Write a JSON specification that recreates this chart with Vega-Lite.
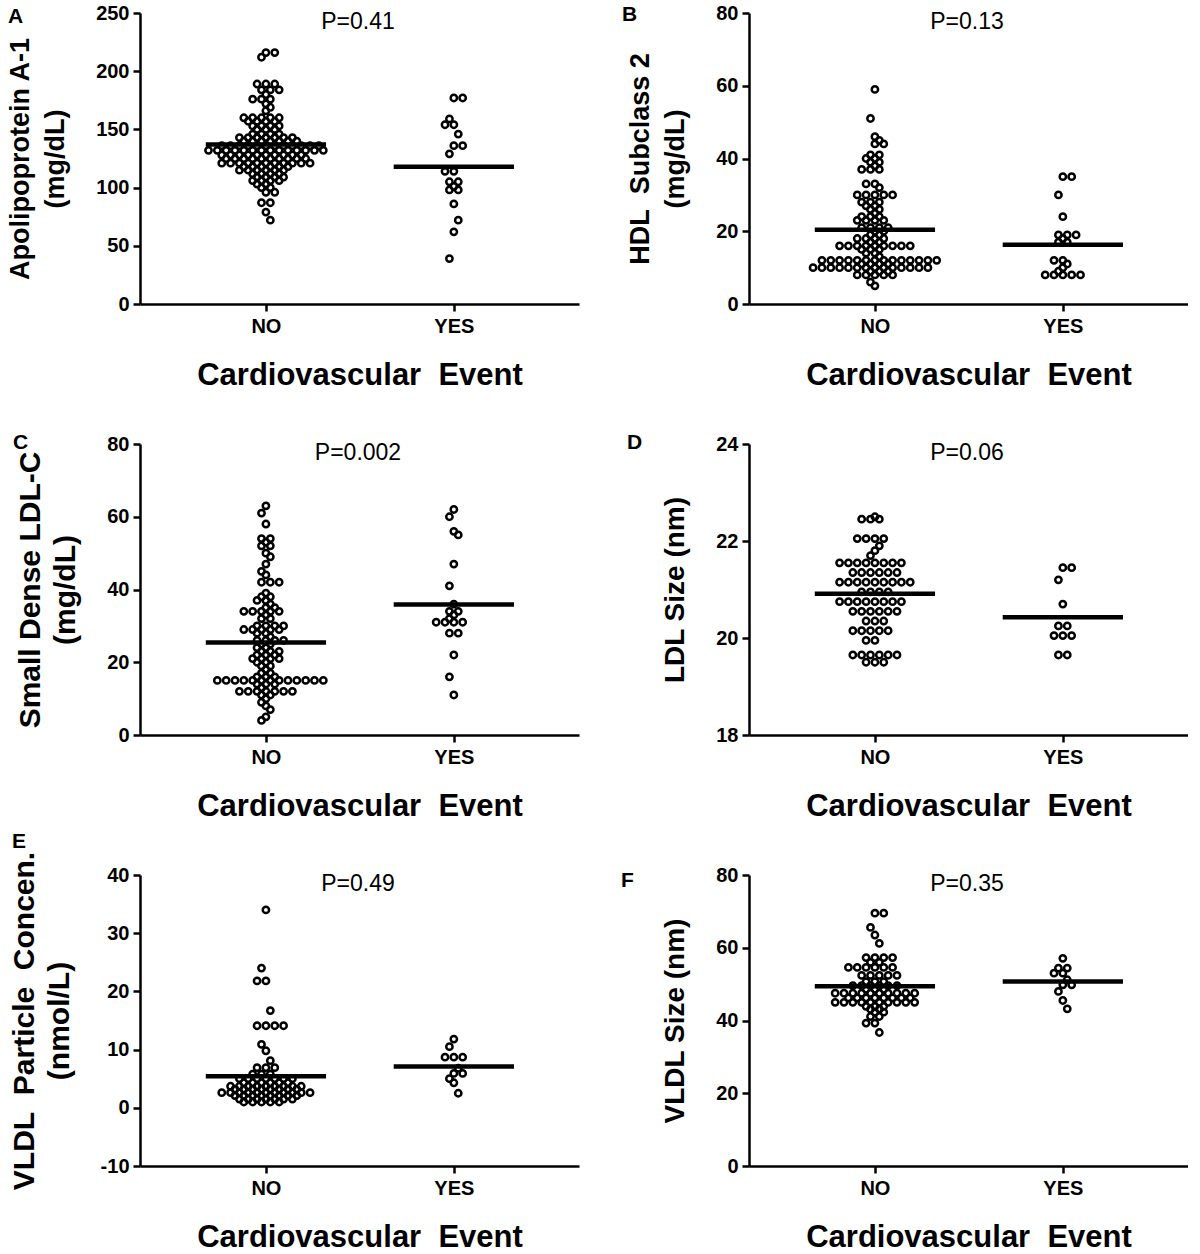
{
"$schema": "https://vega.github.io/schema/vega-lite/v6.json",
"background": "white",
"padding": {"left": 6, "top": 3, "right": 0, "bottom": 0},
"datasets": {
"A": [
{"event":"NO","value":216},{"event":"NO","value":216},{"event":"NO","value":212},
{"event":"NO","value":189},{"event":"NO","value":189},{"event":"NO","value":189},
{"event":"NO","value":184},{"event":"NO","value":184},{"event":"NO","value":184},
{"event":"NO","value":180},{"event":"NO","value":176},{"event":"NO","value":176},{"event":"NO","value":176},
{"event":"NO","value":172},{"event":"NO","value":169},{"event":"NO","value":166},
{"event":"NO","value":160},{"event":"NO","value":160},{"event":"NO","value":160},{"event":"NO","value":160},{"event":"NO","value":160},
{"event":"NO","value":157},{"event":"NO","value":157},{"event":"NO","value":157},{"event":"NO","value":157},
{"event":"NO","value":153},{"event":"NO","value":153},{"event":"NO","value":153},{"event":"NO","value":153},
{"event":"NO","value":150},{"event":"NO","value":150},{"event":"NO","value":150},
{"event":"NO","value":146},{"event":"NO","value":146},{"event":"NO","value":146},{"event":"NO","value":146},
{"event":"NO","value":143},{"event":"NO","value":143},{"event":"NO","value":143},{"event":"NO","value":143},{"event":"NO","value":143},{"event":"NO","value":143},{"event":"NO","value":143},
{"event":"NO","value":140},{"event":"NO","value":140},{"event":"NO","value":140},{"event":"NO","value":140},{"event":"NO","value":140},{"event":"NO","value":140},{"event":"NO","value":140},
{"event":"NO","value":136},{"event":"NO","value":136},{"event":"NO","value":136},{"event":"NO","value":136},{"event":"NO","value":136},{"event":"NO","value":136},{"event":"NO","value":136},{"event":"NO","value":136},{"event":"NO","value":136},{"event":"NO","value":136},{"event":"NO","value":136},{"event":"NO","value":136},
{"event":"NO","value":132},{"event":"NO","value":132},{"event":"NO","value":132},{"event":"NO","value":132},{"event":"NO","value":132},{"event":"NO","value":132},{"event":"NO","value":132},{"event":"NO","value":132},{"event":"NO","value":132},{"event":"NO","value":132},{"event":"NO","value":132},{"event":"NO","value":132},{"event":"NO","value":132},{"event":"NO","value":132},
{"event":"NO","value":128},{"event":"NO","value":128},{"event":"NO","value":128},{"event":"NO","value":128},{"event":"NO","value":128},{"event":"NO","value":128},{"event":"NO","value":128},{"event":"NO","value":128},{"event":"NO","value":128},{"event":"NO","value":128},
{"event":"NO","value":125},{"event":"NO","value":125},{"event":"NO","value":125},{"event":"NO","value":125},{"event":"NO","value":125},{"event":"NO","value":125},{"event":"NO","value":125},{"event":"NO","value":125},{"event":"NO","value":125},{"event":"NO","value":125},
{"event":"NO","value":121},{"event":"NO","value":121},{"event":"NO","value":121},{"event":"NO","value":121},{"event":"NO","value":121},{"event":"NO","value":121},{"event":"NO","value":121},{"event":"NO","value":121},{"event":"NO","value":121},{"event":"NO","value":121},{"event":"NO","value":121},
{"event":"NO","value":118},{"event":"NO","value":118},{"event":"NO","value":118},{"event":"NO","value":118},{"event":"NO","value":118},{"event":"NO","value":118},
{"event":"NO","value":115},{"event":"NO","value":115},{"event":"NO","value":115},{"event":"NO","value":115},{"event":"NO","value":115},{"event":"NO","value":115},
{"event":"NO","value":112},{"event":"NO","value":112},{"event":"NO","value":112},{"event":"NO","value":112},
{"event":"NO","value":109},{"event":"NO","value":109},{"event":"NO","value":109},{"event":"NO","value":109},
{"event":"NO","value":106},{"event":"NO","value":106},{"event":"NO","value":106},{"event":"NO","value":106},
{"event":"NO","value":103},{"event":"NO","value":103},{"event":"NO","value":100},{"event":"NO","value":100},
{"event":"NO","value":96},{"event":"NO","value":96},{"event":"NO","value":87},{"event":"NO","value":87},
{"event":"NO","value":79},{"event":"NO","value":72},
{"event":"YES","value":177},{"event":"YES","value":177},{"event":"YES","value":159},{"event":"YES","value":154},{"event":"YES","value":154},
{"event":"YES","value":146},{"event":"YES","value":136},{"event":"YES","value":136},{"event":"YES","value":129},{"event":"YES","value":114},
{"event":"YES","value":114},{"event":"YES","value":105},{"event":"YES","value":105},{"event":"YES","value":101},{"event":"YES","value":98},
{"event":"YES","value":98},{"event":"YES","value":86},{"event":"YES","value":72},{"event":"YES","value":62},{"event":"YES","value":39}
],
"B": [
{"event":"NO","value":59},{"event":"NO","value":51},{"event":"NO","value":46},{"event":"NO","value":45},
{"event":"NO","value":44},{"event":"NO","value":44},{"event":"NO","value":41},{"event":"NO","value":41},
{"event":"NO","value":40},{"event":"NO","value":40},{"event":"NO","value":39},{"event":"NO","value":39},
{"event":"NO","value":38},{"event":"NO","value":37},{"event":"NO","value":37},{"event":"NO","value":37},
{"event":"NO","value":33},{"event":"NO","value":33},{"event":"NO","value":32},
{"event":"NO","value":30},{"event":"NO","value":30},{"event":"NO","value":30},{"event":"NO","value":30},{"event":"NO","value":30},
{"event":"NO","value":28},{"event":"NO","value":28},{"event":"NO","value":28},
{"event":"NO","value":27},{"event":"NO","value":27},{"event":"NO","value":26},{"event":"NO","value":26},{"event":"NO","value":25},
{"event":"NO","value":24},{"event":"NO","value":24},{"event":"NO","value":24},
{"event":"NO","value":23},{"event":"NO","value":23},{"event":"NO","value":23},{"event":"NO","value":23},
{"event":"NO","value":21},{"event":"NO","value":21},{"event":"NO","value":21},{"event":"NO","value":21},
{"event":"NO","value":20},{"event":"NO","value":20},{"event":"NO","value":19},{"event":"NO","value":19},
{"event":"NO","value":18},{"event":"NO","value":18},{"event":"NO","value":18},{"event":"NO","value":18},
{"event":"NO","value":17},{"event":"NO","value":17},
{"event":"NO","value":16},{"event":"NO","value":16},{"event":"NO","value":16},{"event":"NO","value":16},{"event":"NO","value":16},{"event":"NO","value":16},{"event":"NO","value":16},{"event":"NO","value":16},{"event":"NO","value":16},
{"event":"NO","value":15},{"event":"NO","value":15},{"event":"NO","value":15},{"event":"NO","value":14},{"event":"NO","value":14},{"event":"NO","value":13},
{"event":"NO","value":12},{"event":"NO","value":12},{"event":"NO","value":12},{"event":"NO","value":12},{"event":"NO","value":12},{"event":"NO","value":12},{"event":"NO","value":12},{"event":"NO","value":12},{"event":"NO","value":12},{"event":"NO","value":12},{"event":"NO","value":12},{"event":"NO","value":12},{"event":"NO","value":12},{"event":"NO","value":12},
{"event":"NO","value":11},{"event":"NO","value":11},{"event":"NO","value":11},{"event":"NO","value":11},
{"event":"NO","value":10},{"event":"NO","value":10},{"event":"NO","value":10},{"event":"NO","value":10},{"event":"NO","value":10},{"event":"NO","value":10},{"event":"NO","value":10},{"event":"NO","value":10},{"event":"NO","value":10},{"event":"NO","value":10},{"event":"NO","value":10},{"event":"NO","value":10},{"event":"NO","value":10},{"event":"NO","value":10},
{"event":"NO","value":9},{"event":"NO","value":9},{"event":"NO","value":9},
{"event":"NO","value":8},{"event":"NO","value":8},{"event":"NO","value":8},{"event":"NO","value":8},{"event":"NO","value":8},
{"event":"NO","value":6},{"event":"NO","value":5},
{"event":"YES","value":35},{"event":"YES","value":35},{"event":"YES","value":30},{"event":"YES","value":24},
{"event":"YES","value":19},{"event":"YES","value":19},{"event":"YES","value":19},{"event":"YES","value":18},
{"event":"YES","value":17},{"event":"YES","value":17},{"event":"YES","value":12},{"event":"YES","value":12},
{"event":"YES","value":11},{"event":"YES","value":10},{"event":"YES","value":9},
{"event":"YES","value":8},{"event":"YES","value":8},{"event":"YES","value":8},{"event":"YES","value":8},{"event":"YES","value":8}
],
"C": [
{"event":"NO","value":63},{"event":"NO","value":61},{"event":"NO","value":58},{"event":"NO","value":54},{"event":"NO","value":54},
{"event":"NO","value":53},{"event":"NO","value":52},{"event":"NO","value":52},{"event":"NO","value":50},{"event":"NO","value":49},
{"event":"NO","value":47},{"event":"NO","value":45},{"event":"NO","value":44},{"event":"NO","value":42},{"event":"NO","value":42},{"event":"NO","value":42},
{"event":"NO","value":39},{"event":"NO","value":38},{"event":"NO","value":38},{"event":"NO","value":37},{"event":"NO","value":37},
{"event":"NO","value":36},{"event":"NO","value":35},{"event":"NO","value":35},
{"event":"NO","value":34},{"event":"NO","value":34},{"event":"NO","value":34},{"event":"NO","value":34},{"event":"NO","value":34},
{"event":"NO","value":33},{"event":"NO","value":32},{"event":"NO","value":32},
{"event":"NO","value":30},{"event":"NO","value":30},{"event":"NO","value":30},{"event":"NO","value":30},
{"event":"NO","value":29},{"event":"NO","value":29},{"event":"NO","value":29},{"event":"NO","value":29},{"event":"NO","value":29},
{"event":"NO","value":28},{"event":"NO","value":28},{"event":"NO","value":27},
{"event":"NO","value":26},{"event":"NO","value":26},{"event":"NO","value":26},{"event":"NO","value":26},
{"event":"NO","value":25},{"event":"NO","value":25},{"event":"NO","value":24},{"event":"NO","value":24},
{"event":"NO","value":23},{"event":"NO","value":23},{"event":"NO","value":23},
{"event":"NO","value":22},{"event":"NO","value":22},{"event":"NO","value":22},
{"event":"NO","value":21},{"event":"NO","value":21},{"event":"NO","value":21},{"event":"NO","value":21},
{"event":"NO","value":20},{"event":"NO","value":20},{"event":"NO","value":19},{"event":"NO","value":19},
{"event":"NO","value":18},{"event":"NO","value":17},{"event":"NO","value":17},
{"event":"NO","value":16},{"event":"NO","value":16},{"event":"NO","value":16},
{"event":"NO","value":15},{"event":"NO","value":15},{"event":"NO","value":15},{"event":"NO","value":15},{"event":"NO","value":15},{"event":"NO","value":15},{"event":"NO","value":15},{"event":"NO","value":15},{"event":"NO","value":15},{"event":"NO","value":15},{"event":"NO","value":15},{"event":"NO","value":15},{"event":"NO","value":15},
{"event":"NO","value":14},{"event":"NO","value":14},{"event":"NO","value":14},{"event":"NO","value":13},
{"event":"NO","value":12},{"event":"NO","value":12},{"event":"NO","value":12},{"event":"NO","value":12},{"event":"NO","value":12},{"event":"NO","value":12},{"event":"NO","value":12},
{"event":"NO","value":11},{"event":"NO","value":11},{"event":"NO","value":10},{"event":"NO","value":9},
{"event":"NO","value":8},{"event":"NO","value":7},{"event":"NO","value":5},{"event":"NO","value":4},
{"event":"YES","value":62},{"event":"YES","value":60},{"event":"YES","value":56},{"event":"YES","value":55},
{"event":"YES","value":47},{"event":"YES","value":41},{"event":"YES","value":36},{"event":"YES","value":34},
{"event":"YES","value":34},{"event":"YES","value":33},{"event":"YES","value":32},{"event":"YES","value":31},
{"event":"YES","value":31},{"event":"YES","value":31},{"event":"YES","value":31},{"event":"YES","value":28},
{"event":"YES","value":28},{"event":"YES","value":22},{"event":"YES","value":16},{"event":"YES","value":11}
],
"D": [
{"event":"NO","value":22.5},{"event":"NO","value":22.45},{"event":"NO","value":22.45},{"event":"NO","value":22.45},
{"event":"NO","value":22.05},{"event":"NO","value":22.05},{"event":"NO","value":22.05},{"event":"NO","value":22.05},
{"event":"NO","value":21.9},{"event":"NO","value":21.8},{"event":"NO","value":21.7},
{"event":"NO","value":21.55},{"event":"NO","value":21.55},{"event":"NO","value":21.55},{"event":"NO","value":21.55},{"event":"NO","value":21.55},{"event":"NO","value":21.55},{"event":"NO","value":21.55},{"event":"NO","value":21.55},
{"event":"NO","value":21.35},{"event":"NO","value":21.35},{"event":"NO","value":21.35},{"event":"NO","value":21.35},{"event":"NO","value":21.35},{"event":"NO","value":21.35},
{"event":"NO","value":21.15},{"event":"NO","value":21.15},{"event":"NO","value":21.15},{"event":"NO","value":21.15},{"event":"NO","value":21.15},{"event":"NO","value":21.15},{"event":"NO","value":21.15},{"event":"NO","value":21.15},{"event":"NO","value":21.15},
{"event":"NO","value":20.95},{"event":"NO","value":20.95},{"event":"NO","value":20.95},{"event":"NO","value":20.95},
{"event":"NO","value":20.75},{"event":"NO","value":20.75},{"event":"NO","value":20.75},{"event":"NO","value":20.75},{"event":"NO","value":20.75},{"event":"NO","value":20.75},{"event":"NO","value":20.75},{"event":"NO","value":20.75},
{"event":"NO","value":20.55},{"event":"NO","value":20.55},{"event":"NO","value":20.55},{"event":"NO","value":20.55},{"event":"NO","value":20.55},{"event":"NO","value":20.55},
{"event":"NO","value":20.35},{"event":"NO","value":20.35},{"event":"NO","value":20.35},
{"event":"NO","value":20.15},{"event":"NO","value":20.15},{"event":"NO","value":20.15},{"event":"NO","value":20.15},{"event":"NO","value":20.15},
{"event":"NO","value":19.95},{"event":"NO","value":19.95},
{"event":"NO","value":19.65},{"event":"NO","value":19.65},{"event":"NO","value":19.65},{"event":"NO","value":19.65},{"event":"NO","value":19.65},{"event":"NO","value":19.65},
{"event":"NO","value":19.5},{"event":"NO","value":19.5},{"event":"NO","value":19.5},
{"event":"YES","value":21.45},{"event":"YES","value":21.45},{"event":"YES","value":21.2},{"event":"YES","value":20.7},
{"event":"YES","value":20.25},{"event":"YES","value":20.25},{"event":"YES","value":20.05},{"event":"YES","value":20.05},
{"event":"YES","value":20.05},{"event":"YES","value":19.65},{"event":"YES","value":19.65}
],
"E": [
{"event":"NO","value":34},{"event":"NO","value":24},{"event":"NO","value":21.8},{"event":"NO","value":21.8},{"event":"NO","value":16.7},
{"event":"NO","value":14.1},{"event":"NO","value":14.1},{"event":"NO","value":14.1},{"event":"NO","value":14.1},
{"event":"NO","value":10.9},{"event":"NO","value":9.8},{"event":"NO","value":8.1},
{"event":"NO","value":6.9},{"event":"NO","value":6.9},{"event":"NO","value":6.9},
{"event":"NO","value":5.8},{"event":"NO","value":5.8},{"event":"NO","value":5.8},
{"event":"NO","value":5.0},{"event":"NO","value":5.0},{"event":"NO","value":5.0},{"event":"NO","value":5.0},{"event":"NO","value":5.0},{"event":"NO","value":5.0},{"event":"NO","value":5.0},
{"event":"NO","value":4.3},{"event":"NO","value":4.3},{"event":"NO","value":4.3},{"event":"NO","value":4.3},{"event":"NO","value":4.3},{"event":"NO","value":4.3},
{"event":"NO","value":3.7},{"event":"NO","value":3.7},{"event":"NO","value":3.7},{"event":"NO","value":3.7},{"event":"NO","value":3.7},{"event":"NO","value":3.7},{"event":"NO","value":3.7},{"event":"NO","value":3.7},{"event":"NO","value":3.7},
{"event":"NO","value":3.2},{"event":"NO","value":3.2},{"event":"NO","value":3.2},{"event":"NO","value":3.2},{"event":"NO","value":3.2},{"event":"NO","value":3.2},{"event":"NO","value":3.2},{"event":"NO","value":3.2},
{"event":"NO","value":2.6},{"event":"NO","value":2.6},{"event":"NO","value":2.6},{"event":"NO","value":2.6},{"event":"NO","value":2.6},{"event":"NO","value":2.6},{"event":"NO","value":2.6},{"event":"NO","value":2.6},{"event":"NO","value":2.6},{"event":"NO","value":2.6},{"event":"NO","value":2.6},
{"event":"NO","value":2.1},{"event":"NO","value":2.1},{"event":"NO","value":2.1},{"event":"NO","value":2.1},{"event":"NO","value":2.1},{"event":"NO","value":2.1},{"event":"NO","value":2.1},{"event":"NO","value":2.1},
{"event":"NO","value":1.5},{"event":"NO","value":1.5},{"event":"NO","value":1.5},{"event":"NO","value":1.5},{"event":"NO","value":1.5},{"event":"NO","value":1.5},{"event":"NO","value":1.5},
{"event":"NO","value":1.0},{"event":"NO","value":1.0},{"event":"NO","value":1.0},{"event":"NO","value":1.0},{"event":"NO","value":1.0},
{"event":"YES","value":11.8},{"event":"YES","value":10.5},{"event":"YES","value":8.7},{"event":"YES","value":8.7},
{"event":"YES","value":8.7},{"event":"YES","value":6.8},{"event":"YES","value":5.9},{"event":"YES","value":5.9},
{"event":"YES","value":5.0},{"event":"YES","value":4.3},{"event":"YES","value":2.5}
],
"F": [
{"event":"NO","value":69.5},{"event":"NO","value":69.5},{"event":"NO","value":65.6},{"event":"NO","value":63.5},{"event":"NO","value":61.2},
{"event":"NO","value":57.3},{"event":"NO","value":57.3},{"event":"NO","value":57.3},{"event":"NO","value":57.3},
{"event":"NO","value":56},{"event":"NO","value":56},
{"event":"NO","value":54.6},{"event":"NO","value":54.6},{"event":"NO","value":54.6},{"event":"NO","value":54.6},{"event":"NO","value":54.6},{"event":"NO","value":54.6},
{"event":"NO","value":52.4},{"event":"NO","value":52.4},{"event":"NO","value":52.4},{"event":"NO","value":52.4},{"event":"NO","value":52.4},
{"event":"NO","value":50.7},{"event":"NO","value":50.7},{"event":"NO","value":50.7},
{"event":"NO","value":49.6},{"event":"NO","value":49.6},{"event":"NO","value":49.6},{"event":"NO","value":49.6},{"event":"NO","value":49.6},{"event":"NO","value":49.6},
{"event":"NO","value":48.6},{"event":"NO","value":48.6},{"event":"NO","value":48.6},
{"event":"NO","value":47.5},{"event":"NO","value":47.5},{"event":"NO","value":47.5},{"event":"NO","value":47.5},{"event":"NO","value":47.5},{"event":"NO","value":47.5},{"event":"NO","value":47.5},{"event":"NO","value":47.5},{"event":"NO","value":47.5},{"event":"NO","value":47.5},
{"event":"NO","value":46.2},{"event":"NO","value":46.2},{"event":"NO","value":46.2},{"event":"NO","value":46.2},{"event":"NO","value":46.2},{"event":"NO","value":46.2},{"event":"NO","value":46.2},{"event":"NO","value":46.2},
{"event":"NO","value":45},{"event":"NO","value":45},{"event":"NO","value":45},{"event":"NO","value":45},{"event":"NO","value":45},{"event":"NO","value":45},{"event":"NO","value":45},{"event":"NO","value":45},{"event":"NO","value":45},{"event":"NO","value":45},
{"event":"NO","value":43.9},{"event":"NO","value":43.9},{"event":"NO","value":43.9},
{"event":"NO","value":43.1},{"event":"NO","value":43.1},{"event":"NO","value":42.3},{"event":"NO","value":42.3},
{"event":"NO","value":41.1},{"event":"NO","value":41.1},{"event":"NO","value":39.3},{"event":"NO","value":39.3},{"event":"NO","value":36.7},
{"event":"YES","value":57.1},{"event":"YES","value":54.4},{"event":"YES","value":54.4},{"event":"YES","value":53},
{"event":"YES","value":53},{"event":"YES","value":51.2},{"event":"YES","value":49.8},{"event":"YES","value":49.8},
{"event":"YES","value":48},{"event":"YES","value":45.5},{"event":"YES","value":43.2}
],
"means": [
{"panel":"A","event":"NO","value":137},{"panel":"A","event":"YES","value":118},
{"panel":"B","event":"NO","value":20.4},{"panel":"B","event":"YES","value":16.3},
{"panel":"C","event":"NO","value":25.4},{"panel":"C","event":"YES","value":35.9},
{"panel":"D","event":"NO","value":20.91},{"panel":"D","event":"YES","value":20.43},
{"panel":"E","event":"NO","value":5.4},{"panel":"E","event":"YES","value":7.1},
{"panel":"F","event":"NO","value":49.4},{"panel":"F","event":"YES","value":50.7}
],
"plabels": [
{"panel":"A","label":"P=0.41"},{"panel":"B","label":"P=0.13"},{"panel":"C","label":"P=0.002"},
{"panel":"D","label":"P=0.06"},{"panel":"E","label":"P=0.49"},{"panel":"F","label":"P=0.35"}
]
},
"columns": 2,
"spacing": {"row": 140, "column": 170},
"bounds": "flush",
"concat": [
{
"width": 439, "height": 291,
"title": {"text": "A", "dx": -132, "dy": 28},
"layer": [
{"data": {"name": "A"},
"transform": [
{"calculate": "datum.event == 'NO' ? 1 : 2", "as": "grp"},
{"window": [{"op": "row_number", "as": "k"}], "groupby": ["event", "value"]},
{"joinaggregate": [{"op": "count", "as": "n"}], "groupby": ["event", "value"]},
{"window": [{"op": "dense_rank", "as": "r"}], "groupby": ["event"], "sort": [{"field": "value", "order": "descending"}]},
{"calculate": "(datum.k - 1) - (datum.n - 1) / 2", "as": "c"},
{"calculate": "((datum.r % 2 == 1) == (datum.n % 2 == 1)) ? datum.c : datum.c + ((datum.r % 4 < 2) ? 0.5 : -0.5)", "as": "slot"},
{"calculate": "datum.grp + datum.slot * 0.047", "as": "x"}
],
"mark": {"type": "point", "shape": "circle", "filled": false, "color": "black", "strokeWidth": 2.5, "size": 40, "opacity": 1},
"encoding": {
"x": {"field": "x", "type": "quantitative", "scale": {"domain": [0.33, 2.666], "nice": false, "zero": false}, "axis": {"values": [1, 2], "labelExpr": "datum.value == 1 ? 'NO' : 'YES'", "title": "Cardiovascular\u00a0 Event"}},
"y": {"field": "value", "type": "quantitative", "scale": {"domain": [0, 250], "nice": false, "zero": false}, "axis": {"values": [0, 50, 100, 150, 200, 250], "title": ["Apolipoprotein A-1", "(mg/dL)"], "titleFontSize": 27}}
}},
{"data": {"name": "means"},
"transform": [{"filter": "datum.panel == 'A'"}, {"calculate": "(datum.event == 'NO' ? 1 : 2) - 0.32", "as": "x"}, {"calculate": "(datum.event == 'NO' ? 1 : 2) + 0.32", "as": "x2"}],
"mark": {"type": "rule", "color": "black", "strokeWidth": 4.5},
"encoding": {"x": {"field": "x", "type": "quantitative"}, "x2": {"field": "x2"}, "y": {"field": "value", "type": "quantitative"}}},
{"data": {"name": "plabels"},
"transform": [{"filter": "datum.panel == 'A'"}],
"mark": {"type": "text", "font": "Liberation Sans", "fontSize": 23, "baseline": "middle", "dy": 9, "color": "black"},
"encoding": {"x": {"datum": 1.49}, "y": {"datum": 250}, "text": {"field": "label"}}}
]
},
{
"width": 439, "height": 291,
"title": {"text": "B", "dx": -127, "dy": 26},
"layer": [
{"data": {"name": "B"},
"transform": [
{"calculate": "datum.event == 'NO' ? 1 : 2", "as": "grp"},
{"window": [{"op": "row_number", "as": "k"}], "groupby": ["event", "value"]},
{"joinaggregate": [{"op": "count", "as": "n"}], "groupby": ["event", "value"]},
{"window": [{"op": "dense_rank", "as": "r"}], "groupby": ["event"], "sort": [{"field": "value", "order": "descending"}]},
{"calculate": "(datum.k - 1) - (datum.n - 1) / 2", "as": "c"},
{"calculate": "((datum.r % 2 == 1) == (datum.n % 2 == 1)) ? datum.c : datum.c + ((datum.r % 4 < 2) ? 0.5 : -0.5)", "as": "slot"},
{"calculate": "datum.grp + datum.slot * 0.047", "as": "x"}
],
"mark": {"type": "point", "shape": "circle", "filled": false, "color": "black", "strokeWidth": 2.5, "size": 40, "opacity": 1},
"encoding": {
"x": {"field": "x", "type": "quantitative", "scale": {"domain": [0.33, 2.666], "nice": false, "zero": false}, "axis": {"values": [1, 2], "labelExpr": "datum.value == 1 ? 'NO' : 'YES'", "title": "Cardiovascular\u00a0 Event"}},
"y": {"field": "value", "type": "quantitative", "scale": {"domain": [0, 80], "nice": false, "zero": false}, "axis": {"values": [0, 20, 40, 60, 80], "title": ["HDL\u00a0 Subclass 2", "(mg/dL)"], "titleFontSize": 27}}
}},
{"data": {"name": "means"},
"transform": [{"filter": "datum.panel == 'B'"}, {"calculate": "(datum.event == 'NO' ? 1 : 2) - 0.32", "as": "x"}, {"calculate": "(datum.event == 'NO' ? 1 : 2) + 0.32", "as": "x2"}],
"mark": {"type": "rule", "color": "black", "strokeWidth": 4.5},
"encoding": {"x": {"field": "x", "type": "quantitative"}, "x2": {"field": "x2"}, "y": {"field": "value", "type": "quantitative"}}},
{"data": {"name": "plabels"},
"transform": [{"filter": "datum.panel == 'B'"}],
"mark": {"type": "text", "font": "Liberation Sans", "fontSize": 23, "baseline": "middle", "dy": 9, "color": "black"},
"encoding": {"x": {"datum": 1.49}, "y": {"datum": 80}, "text": {"field": "label"}}}
]
},
{
"width": 439, "height": 291,
"title": {"text": "C", "dx": -127, "dy": 23},
"layer": [
{"data": {"name": "C"},
"transform": [
{"calculate": "datum.event == 'NO' ? 1 : 2", "as": "grp"},
{"window": [{"op": "row_number", "as": "k"}], "groupby": ["event", "value"]},
{"joinaggregate": [{"op": "count", "as": "n"}], "groupby": ["event", "value"]},
{"window": [{"op": "dense_rank", "as": "r"}], "groupby": ["event"], "sort": [{"field": "value", "order": "descending"}]},
{"calculate": "(datum.k - 1) - (datum.n - 1) / 2", "as": "c"},
{"calculate": "((datum.r % 2 == 1) == (datum.n % 2 == 1)) ? datum.c : datum.c + ((datum.r % 4 < 2) ? 0.5 : -0.5)", "as": "slot"},
{"calculate": "datum.grp + datum.slot * 0.047", "as": "x"}
],
"mark": {"type": "point", "shape": "circle", "filled": false, "color": "black", "strokeWidth": 2.5, "size": 40, "opacity": 1},
"encoding": {
"x": {"field": "x", "type": "quantitative", "scale": {"domain": [0.33, 2.666], "nice": false, "zero": false}, "axis": {"values": [1, 2], "labelExpr": "datum.value == 1 ? 'NO' : 'YES'", "title": "Cardiovascular\u00a0 Event"}},
"y": {"field": "value", "type": "quantitative", "scale": {"domain": [0, 80], "nice": false, "zero": false}, "axis": {"values": [0, 20, 40, 60, 80], "title": ["Small Dense LDL-C", "(mg/dL)"], "titleFontSize": 30}}
}},
{"data": {"name": "means"},
"transform": [{"filter": "datum.panel == 'C'"}, {"calculate": "(datum.event == 'NO' ? 1 : 2) - 0.32", "as": "x"}, {"calculate": "(datum.event == 'NO' ? 1 : 2) + 0.32", "as": "x2"}],
"mark": {"type": "rule", "color": "black", "strokeWidth": 4.5},
"encoding": {"x": {"field": "x", "type": "quantitative"}, "x2": {"field": "x2"}, "y": {"field": "value", "type": "quantitative"}}},
{"data": {"name": "plabels"},
"transform": [{"filter": "datum.panel == 'C'"}],
"mark": {"type": "text", "font": "Liberation Sans", "fontSize": 23, "baseline": "middle", "dy": 9, "color": "black"},
"encoding": {"x": {"datum": 1.49}, "y": {"datum": 80}, "text": {"field": "label"}}}
]
},
{
"width": 439, "height": 291,
"title": {"text": "D", "dx": -122, "dy": 23},
"layer": [
{"data": {"name": "D"},
"transform": [
{"calculate": "datum.event == 'NO' ? 1 : 2", "as": "grp"},
{"window": [{"op": "row_number", "as": "k"}], "groupby": ["event", "value"]},
{"joinaggregate": [{"op": "count", "as": "n"}], "groupby": ["event", "value"]},
{"window": [{"op": "dense_rank", "as": "r"}], "groupby": ["event"], "sort": [{"field": "value", "order": "descending"}]},
{"calculate": "(datum.k - 1) - (datum.n - 1) / 2", "as": "c"},
{"calculate": "((datum.r % 2 == 1) == (datum.n % 2 == 1)) ? datum.c : datum.c + ((datum.r % 4 < 2) ? 0.5 : -0.5)", "as": "slot"},
{"calculate": "datum.grp + datum.slot * 0.047", "as": "x"}
],
"mark": {"type": "point", "shape": "circle", "filled": false, "color": "black", "strokeWidth": 2.5, "size": 40, "opacity": 1},
"encoding": {
"x": {"field": "x", "type": "quantitative", "scale": {"domain": [0.33, 2.666], "nice": false, "zero": false}, "axis": {"values": [1, 2], "labelExpr": "datum.value == 1 ? 'NO' : 'YES'", "title": "Cardiovascular\u00a0 Event"}},
"y": {"field": "value", "type": "quantitative", "scale": {"domain": [18, 24], "nice": false, "zero": false}, "axis": {"values": [18, 20, 22, 24], "title": "LDL Size (nm)", "titleFontSize": 28}}
}},
{"data": {"name": "means"},
"transform": [{"filter": "datum.panel == 'D'"}, {"calculate": "(datum.event == 'NO' ? 1 : 2) - 0.32", "as": "x"}, {"calculate": "(datum.event == 'NO' ? 1 : 2) + 0.32", "as": "x2"}],
"mark": {"type": "rule", "color": "black", "strokeWidth": 4.5},
"encoding": {"x": {"field": "x", "type": "quantitative"}, "x2": {"field": "x2"}, "y": {"field": "value", "type": "quantitative"}}},
{"data": {"name": "plabels"},
"transform": [{"filter": "datum.panel == 'D'"}],
"mark": {"type": "text", "font": "Liberation Sans", "fontSize": 23, "baseline": "middle", "dy": 9, "color": "black"},
"encoding": {"x": {"datum": 1.49}, "y": {"datum": 24}, "text": {"field": "label"}}}
]
},
{
"width": 439, "height": 291,
"title": {"text": "E", "dx": -128, "dy": 5},
"layer": [
{"data": {"name": "E"},
"transform": [
{"calculate": "datum.event == 'NO' ? 1 : 2", "as": "grp"},
{"window": [{"op": "row_number", "as": "k"}], "groupby": ["event", "value"]},
{"joinaggregate": [{"op": "count", "as": "n"}], "groupby": ["event", "value"]},
{"window": [{"op": "dense_rank", "as": "r"}], "groupby": ["event"], "sort": [{"field": "value", "order": "descending"}]},
{"calculate": "(datum.k - 1) - (datum.n - 1) / 2", "as": "c"},
{"calculate": "((datum.r % 2 == 1) == (datum.n % 2 == 1)) ? datum.c : datum.c + ((datum.r % 4 < 2) ? 0.5 : -0.5)", "as": "slot"},
{"calculate": "datum.grp + datum.slot * 0.047", "as": "x"}
],
"mark": {"type": "point", "shape": "circle", "filled": false, "color": "black", "strokeWidth": 2.5, "size": 40, "opacity": 1},
"encoding": {
"x": {"field": "x", "type": "quantitative", "scale": {"domain": [0.33, 2.666], "nice": false, "zero": false}, "axis": {"values": [1, 2], "labelExpr": "datum.value == 1 ? 'NO' : 'YES'", "title": "Cardiovascular\u00a0 Event"}},
"y": {"field": "value", "type": "quantitative", "scale": {"domain": [-10, 40], "nice": false, "zero": false}, "axis": {"values": [-10, 0, 10, 20, 30, 40], "labelExpr": "datum.value == -10 ? '-10' : datum.label", "title": ["VLDL\u00a0 Particle\u00a0 Concen.", "(nmol/L)"], "titleFontSize": 30}}
}},
{"data": {"name": "means"},
"transform": [{"filter": "datum.panel == 'E'"}, {"calculate": "(datum.event == 'NO' ? 1 : 2) - 0.32", "as": "x"}, {"calculate": "(datum.event == 'NO' ? 1 : 2) + 0.32", "as": "x2"}],
"mark": {"type": "rule", "color": "black", "strokeWidth": 4.5},
"encoding": {"x": {"field": "x", "type": "quantitative"}, "x2": {"field": "x2"}, "y": {"field": "value", "type": "quantitative"}}},
{"data": {"name": "plabels"},
"transform": [{"filter": "datum.panel == 'E'"}],
"mark": {"type": "text", "font": "Liberation Sans", "fontSize": 23, "baseline": "middle", "dy": 9, "color": "black"},
"encoding": {"x": {"datum": 1.49}, "y": {"datum": 40}, "text": {"field": "label"}}}
]
},
{
"width": 439, "height": 291,
"title": {"text": "F", "dx": -128, "dy": 30},
"layer": [
{"data": {"name": "F"},
"transform": [
{"calculate": "datum.event == 'NO' ? 1 : 2", "as": "grp"},
{"window": [{"op": "row_number", "as": "k"}], "groupby": ["event", "value"]},
{"joinaggregate": [{"op": "count", "as": "n"}], "groupby": ["event", "value"]},
{"window": [{"op": "dense_rank", "as": "r"}], "groupby": ["event"], "sort": [{"field": "value", "order": "descending"}]},
{"calculate": "(datum.k - 1) - (datum.n - 1) / 2", "as": "c"},
{"calculate": "((datum.r % 2 == 1) == (datum.n % 2 == 1)) ? datum.c : datum.c + ((datum.r % 4 < 2) ? 0.5 : -0.5)", "as": "slot"},
{"calculate": "datum.grp + datum.slot * 0.047", "as": "x"}
],
"mark": {"type": "point", "shape": "circle", "filled": false, "color": "black", "strokeWidth": 2.5, "size": 40, "opacity": 1},
"encoding": {
"x": {"field": "x", "type": "quantitative", "scale": {"domain": [0.33, 2.666], "nice": false, "zero": false}, "axis": {"values": [1, 2], "labelExpr": "datum.value == 1 ? 'NO' : 'YES'", "title": "Cardiovascular\u00a0 Event"}},
"y": {"field": "value", "type": "quantitative", "scale": {"domain": [0, 80], "nice": false, "zero": false}, "axis": {"values": [0, 20, 40, 60, 80], "title": "VLDL Size (nm)", "titleFontSize": 28}}
}},
{"data": {"name": "means"},
"transform": [{"filter": "datum.panel == 'F'"}, {"calculate": "(datum.event == 'NO' ? 1 : 2) - 0.32", "as": "x"}, {"calculate": "(datum.event == 'NO' ? 1 : 2) + 0.32", "as": "x2"}],
"mark": {"type": "rule", "color": "black", "strokeWidth": 4.5},
"encoding": {"x": {"field": "x", "type": "quantitative"}, "x2": {"field": "x2"}, "y": {"field": "value", "type": "quantitative"}}},
{"data": {"name": "plabels"},
"transform": [{"filter": "datum.panel == 'F'"}],
"mark": {"type": "text", "font": "Liberation Sans", "fontSize": 23, "baseline": "middle", "dy": 9, "color": "black"},
"encoding": {"x": {"datum": 1.49}, "y": {"datum": 80}, "text": {"field": "label"}}}
]
}
],
"config": {
"view": {"stroke": null},
"font": "Liberation Sans",
"axis": {"grid": false, "domainColor": "black", "domainWidth": 2.5, "tickColor": "black", "tickWidth": 2.5, "tickSize": 7, "labelFont": "Liberation Sans", "labelFontSize": 20, "labelFontWeight": "bold", "labelColor": "black", "titleFont": "Liberation Sans", "titleFontSize": 28, "titleFontWeight": "bold", "titleColor": "black", "titleLineHeight": 35},
"axisX": {"labelPadding": 5, "titlePadding": 24, "labelAngle": 0, "titleFontSize": 31},
"axisY": {"labelPadding": 4, "titlePadding": 26},
"title": {"font": "Liberation Sans", "fontSize": 21, "fontWeight": "bold", "color": "black", "anchor": "start", "frame": "group", "baseline": "top", "offset": 0}
}
}
